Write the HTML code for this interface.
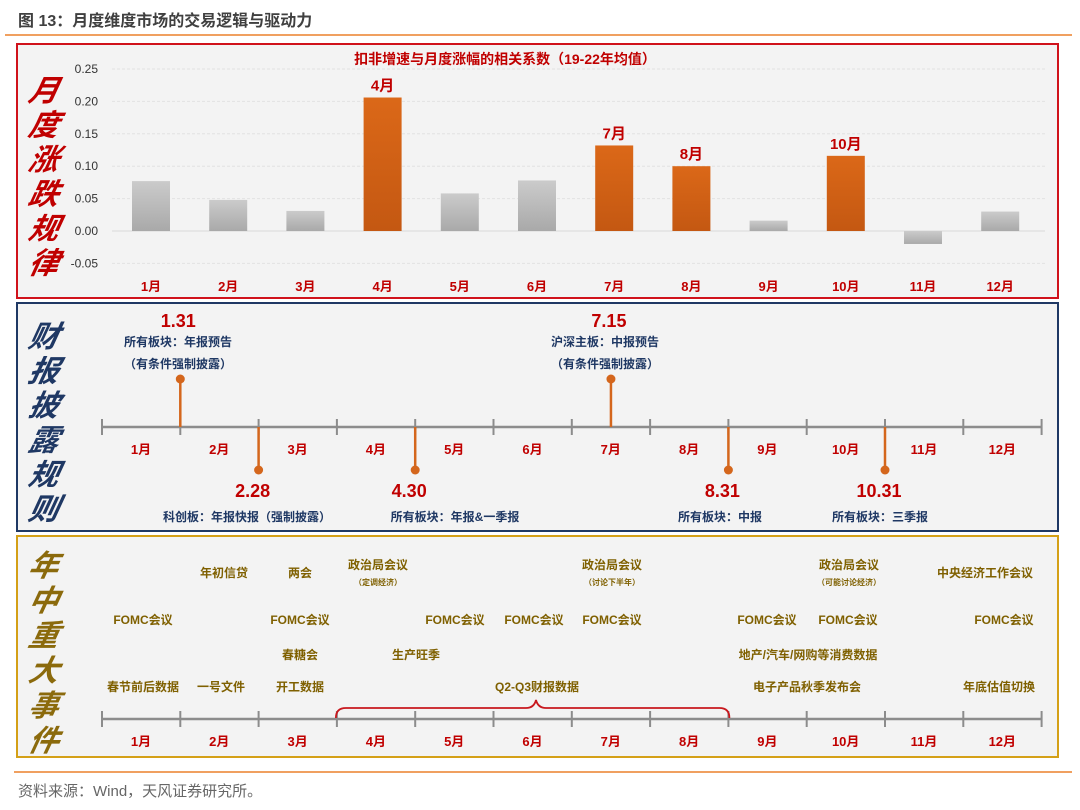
<!DOCTYPE html>
<html><head><meta charset="utf-8">
<style>
body{margin:0;background:#fff;width:1080px;height:805px;overflow:hidden;font-family:"Liberation Sans","Noto Sans CJK SC",sans-serif;}
svg text{font-family:"Liberation Sans","Noto Sans CJK SC",sans-serif;}
</style></head>
<body>
<svg id="root" width="1080" height="805" viewBox="0 0 1080 805">
<defs>
<linearGradient id="gOr" x1="0" y1="0" x2="0" y2="1"><stop offset="0" stop-color="#db6818"/><stop offset="1" stop-color="#c45812"/></linearGradient>
<linearGradient id="gGr" x1="0" y1="0" x2="0" y2="1"><stop offset="0" stop-color="#cbcbcb"/><stop offset="1" stop-color="#a9a9a9"/></linearGradient>
</defs>
<text x="18" y="26" font-size="16" font-weight="bold" fill="#404040">图 13：月度维度市场的交易逻辑与驱动力</text>
<line x1="5" y1="35" x2="1072" y2="35" stroke="#f0a060" stroke-width="2"/>

<rect x="17" y="44" width="1041" height="254" fill="#f3f3f3" stroke="#d0121b" stroke-width="2"/>
<rect x="17" y="303" width="1041" height="228" fill="#f3f3f3" stroke="#1f3864" stroke-width="2"/>
<rect x="17" y="536" width="1041" height="221" fill="#f3f3f3" stroke="#d4a017" stroke-width="2"/>

<g id="chart"></g>
<g id="disc"></g>
<g id="ev"></g>

<line x1="14" y1="772" x2="1072" y2="772" stroke="#f0a060" stroke-width="2"/>
<text x="18" y="796" font-size="15" fill="#666">资料来源：Wind，天风证券研究所。</text>
</svg>
<script>
const months = ['1月','2月','3月','4月','5月','6月','7月','8月','9月','10月','11月','12月'];
const corrValues = [0.077,0.048,0.031,0.206,0.058,0.078,0.132,0.100,0.016,0.116,-0.020,0.030];
const highlighted = [false,false,false,true,false,false,true,true,false,true,false,false];
const yTicks = [0.25,0.20,0.15,0.10,0.05,0.00,-0.05];
const yTickLabels = ['0.25','0.20','0.15','0.10','0.05','0.00','-0.05'];

const NS='http://www.w3.org/2000/svg';
function mk(tag,attrs,parent,txt){const e=document.createElementNS(NS,tag);for(const k in attrs)e.setAttribute(k,attrs[k]);if(txt!==undefined)e.textContent=txt;parent.appendChild(e);return e;}
const chart=document.getElementById('chart');
const yS=v=>231-v/0.05*32.4;
const xS=i=>151+i*77.2;

mk('text',{x:505,y:64,'font-size':14,'font-weight':'bold',fill:'#c00000','text-anchor':'middle'},chart,'扣非增速与月度涨幅的相关系数（19-22年均值）');
yTicks.forEach((t,i)=>{
  const gl=mk('line',{x1:112,x2:1045,y1:yS(t),y2:yS(t),stroke:t===0?'#d8d8d8':'#e2e2e2','stroke-dasharray':t===0?'':'3,2'},chart);
  
  
  const tl=mk('text',{x:98,y:yS(t)+4,'font-size':12,fill:'#333','text-anchor':'end'},chart,yTickLabels[i]);
  
  
});
corrValues.forEach((v,i)=>{
  const y0=yS(0),y1=yS(v);
  const b=mk('rect',{x:xS(i)-19,y:Math.min(y0,y1),width:38,height:Math.abs(y1-y0),fill:highlighted[i]?'url(#gOr)':'url(#gGr)'},chart);
  
  
  const l=mk('text',{x:xS(i),y:291,'font-size':13,'font-weight':'bold',fill:'#c00000','text-anchor':'middle'},chart,months[i]);
  
  
  if(highlighted[i]){
    const dl=mk('text',{x:xS(i),y:y1-7,'font-size':15,'font-weight':'bold',fill:'#c00000','text-anchor':'middle'},chart,months[i]);
    
    
  }
});
function vtitle(chars,x,y0,step,color,parent,name){
  chars.split('').forEach((c,i)=>{
    const t=mk('text',{x:x,y:y0+i*step,'font-size':30,'font-style':'italic','font-weight':'bold',fill:color,'text-anchor':'middle',transform:`skewX(-12) translate(${(y0+i*step)*0.2126},0)`},parent,c);
    
    
  });
}
vtitle('月度涨跌规律',42,101,34.5,'#c00000',chart,'panel-title-char');

// Disclosure timeline
const disc=document.getElementById('disc');
const tx=i=>102+i*78.3;
vtitle('财报披露规则',42,347,34.5,'#1f3864',disc,'panel-title-char');
function timeline(parent,y){
  const a=mk('line',{x1:tx(0),x2:tx(12),y1:y,y2:y,stroke:'#8c8c8c','stroke-width':2.5},parent);
  
  
  for(let i=0;i<=12;i++){
    const t=mk('line',{x1:tx(i),x2:tx(i),y1:y-8,y2:y+8,stroke:'#8c8c8c','stroke-width':2},parent);
    
    
  }
  months.forEach((m,i)=>{
    const l=mk('text',{x:tx(i)+39,y:y+27,'font-size':13,'font-weight':'bold',fill:'#c00000','text-anchor':'middle'},parent,m);
    
    
  });
}
timeline(disc,427);
const dDates=['1.31','2.28','4.30','7.15','8.31','10.31'];
const dPos=[1,2,4,6.5,8,10];
const dUp=[true,false,false,true,false,false];
const dLines=[['所有板块：年报预告','（有条件强制披露）'],['科创板：年报快报（强制披露）'],['所有板块：年报&一季报'],['沪深主板：中报预告','（有条件强制披露）'],['所有板块：中报'],['所有板块：三季报']];
const dTextX=[178,247,455,605,720,880];
dPos.forEach((p,i)=>{
  const x=tx(p);
  const ye=dUp[i]?379:470;
  const st=mk('line',{x1:x,x2:x,y1:427,y2:ye,stroke:'#d4661c','stroke-width':2.5},disc);
  
  
  const c=mk('circle',{cx:x,cy:ye,r:4.5,fill:'#d4661c'},disc);
  
  
  const dx=dUp[i]?x-2:x-6;
  const dy=dUp[i]?327:497;
  const dt=mk('text',{x:dx,y:dy,'font-size':18,'font-weight':'bold',fill:'#c00000','text-anchor':'middle'},disc,dDates[i]);
  
  
  dLines[i].forEach((s,j)=>{
    const yy=dUp[i]?346+j*22:521;
    const t=mk('text',{x:dTextX[i],y:yy,'font-size':12,'font-weight':'bold',fill:'#1f3864','text-anchor':'middle'},disc,s);
    
    
  });
});

// Events
const ev=document.getElementById('ev');
vtitle('年中重大事件',42,576,35,'#8b6a0c',ev,'panel-title-char');
timeline(ev,719);
const evText=['年初信贷','两会','政治局会议','政治局会议','政治局会议','中央经济工作会议','FOMC会议','FOMC会议','FOMC会议','FOMC会议','FOMC会议','FOMC会议','FOMC会议','FOMC会议','春糖会','生产旺季','地产/汽车/网购等消费数据','春节前后数据','一号文件','开工数据','Q2-Q3财报数据','电子产品秋季发布会','年底估值切换'];
const evX=[224,300,378,612,849,985,143,300,455,534,612,767,848,1004,300,416,808,143,221,300,537,807,999];
const evY=[577,577,569,569,569,577,624,624,624,624,624,624,624,624,659,659,659,691,691,691,691,691,691];
evText.forEach((s,i)=>{
  const t=mk('text',{x:evX[i],y:evY[i],'font-size':12,'font-weight':'bold',fill:'#7f6000','text-anchor':'middle'},ev,s);
  
  
});
const subT=['（定调经济）','（讨论下半年）','（可能讨论经济）'];
const subX=[378,612,849];
subT.forEach((s,i)=>{
  const t=mk('text',{x:subX[i],y:585,'font-size':8,'font-weight':'bold',fill:'#7f6000','text-anchor':'middle'},ev,s);
  
  
});
const b=mk('path',{d:`M${tx(3)-1} 718 Q${tx(3)-1} 708 ${tx(3)+9} 708 L526 708 Q534 708 536 700 Q538 708 546 708 L${tx(8)-9} 708 Q${tx(8)+1} 708 ${tx(8)+1} 718`,fill:'none',stroke:'#c8181e','stroke-width':1.8},ev);


</script>
</body></html>
